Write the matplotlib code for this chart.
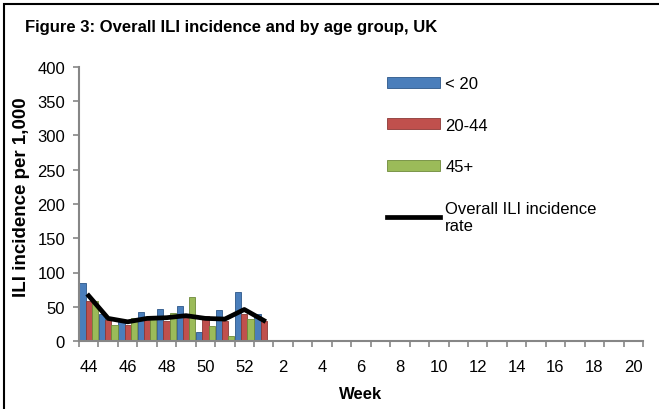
import numpy as np
import matplotlib.pyplot as plt
from matplotlib.patches import Rectangle

plt.rcParams['font.family'] = ['Liberation Sans', 'DejaVu Sans']

# Semanas (44-52 de un año, 1-20 del siguiente)
weeks = [str(w) for w in range(44, 53)] + [str(w) for w in range(1, 21)]

# Tasas por 1.000 (solo hay datos de las primeras semanas)
under20 = [85, 39, 29, 43, 47, 51, 13, 45, 72, 39]
age20_44 = [58, 31, 24, 31, 29, 34, 36, 29, 39, 29]
age45 = [59, 23, 34, 34, 41, 64, 22, 8, 32]
overall = [66, 33, 28, 33, 34, 37, 33, 32, 46, 30]

fig = plt.figure(figsize=(6.59, 4.10), dpi=100)
ax = fig.add_axes([79/659, 1 - 342/410, (643 - 79)/659, (342 - 68)/410])

w = 0.32
series = [(under20, '< 20', '#4A7EBB', '#2C5689', -w),
          (age20_44, '20-44', '#C0504D', '#8C3836', 0),
          (age45, '45+', '#9BBB59', '#6E8A3A', w)]

handles = []
for vals, lab, col, edge, off in series:
    x = np.arange(len(vals))
    b = ax.bar(x + off, vals, width=w, color=col, edgecolor=edge, linewidth=0.6, label=lab)
    handles.append(b)

ln, = ax.plot(np.arange(len(overall)), overall, color='black', lw=3.4,
              solid_joinstyle='round', label='Overall ILI incidence\nrate')
handles.append(ln)

ax.set_xlim(-0.5, len(weeks) - 0.5)
ax.set_ylim(0, 400)
ax.set_yticks(np.arange(0, 401, 50))

ax.set_xticks(np.arange(0, len(weeks), 2))
ax.set_xticklabels(weeks[::2])
ax.set_xticks(np.arange(-0.5, len(weeks), 1), minor=True)
ax.tick_params(axis='x', which='major', length=0, pad=13, labelsize=12)
ax.tick_params(axis='x', which='minor', length=4, width=1.2, color='#868686')
ax.tick_params(axis='y', length=4, width=1.2, color='#868686', pad=6, labelsize=12)

for s in ['top', 'right']:
    ax.spines[s].set_visible(False)
for s in ['left', 'bottom']:
    ax.spines[s].set_color('#868686')
    ax.spines[s].set_linewidth(1.5)

ax.set_ylabel('ILI incidence per 1,000', fontsize=13.5, fontweight='bold')
ax.yaxis.set_label_coords(-0.087, 0.53)
ax.set_xlabel('Week', fontsize=12, fontweight='bold')
ax.xaxis.set_label_coords(0.5, -0.165)

fig.text(25/659, 1 - 20/410, 'Figure 3: Overall ILI incidence and by age group, UK',
         fontsize=12, fontweight='bold', va='top', ha='left')

ax.legend(handles=handles, loc='upper left', bbox_to_anchor=(387/659, 1 - 77/410),
          bbox_transform=fig.transFigure, frameon=False, fontsize=12,
          borderpad=0, borderaxespad=0, handlelength=3.2, handleheight=0.65,
          handletextpad=0.3, labelspacing=1.6)

# marco exterior
fig.patches.append(Rectangle((4/659, -0.5), 2, 0.5 + 1 - 5/410, transform=fig.transFigure,
                             fill=False, edgecolor='black', lw=1.5))

fig.savefig('out.png', dpi=100)
